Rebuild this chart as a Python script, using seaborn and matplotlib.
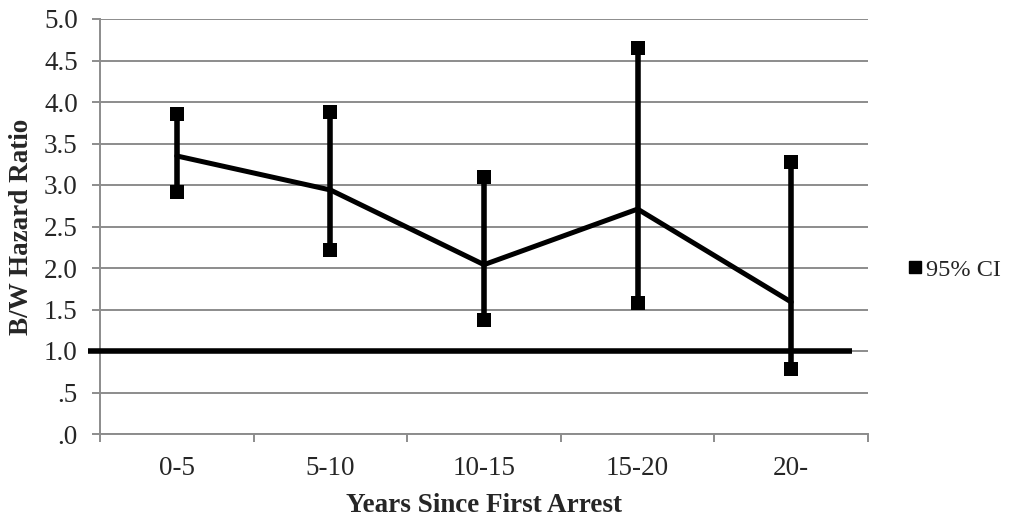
import matplotlib
matplotlib.use("Agg")
import matplotlib.pyplot as plt
from matplotlib.lines import Line2D
import seaborn as sns
import pandas as pd
import numpy as np

# Black/White hazard ratio by time since first arrest, with 95% confidence limits
periods = ["0-5", "5-10", "10-15", "15-20", "20-"]
hazard_ratio = [3.35, 2.94, 2.04, 2.71, 1.59]
ci_lower = [2.91, 2.22, 1.37, 1.58, 0.78]
ci_upper = [3.86, 3.88, 3.10, 4.65, 3.28]
reference_ratio = 1.0
y_ticks = [0.0, 0.5, 1.0, 1.5, 2.0, 2.5, 3.0, 3.5, 4.0, 4.5, 5.0]
y_tick_labels = [".0", ".5", "1.0", "1.5", "2.0", "2.5", "3.0", "3.5", "4.0", "4.5", "5.0"]

sns.set_theme(style="white")
plt.rcParams["font.family"] = ["Liberation Serif", "DejaVu Serif"]

pos = np.arange(len(periods))
df = pd.DataFrame({"pos": pos, "hr": hazard_ratio, "lo": ci_lower, "hi": ci_upper})
ci_long = pd.DataFrame({
    "pos": np.concatenate([pos, pos]),
    "bound": ci_lower + ci_upper,
})

fig = plt.figure(figsize=(10.15, 5.18), dpi=100)
ax = fig.add_axes([100 / 1015, 1 - 434 / 518, 768 / 1015, 415 / 518])

fs = 19.5
grid_color = "#8c8c8c"
ax.set_ylim(0, 5)
ax.set_xlim(-0.5, len(periods) - 0.5)
ax.set_yticks(y_ticks)
ax.set_yticklabels(y_tick_labels)
ax.yaxis.grid(True, color=grid_color, linewidth=1.4)
ax.set_axisbelow(True)

# reference line at ratio = 1, running slightly past the left axis
ax.plot([-0.578, 4.397], [reference_ratio, reference_ratio], color="black",
        linewidth=4, clip_on=False, zorder=3, solid_capstyle="butt")

# confidence interval whiskers
ax.vlines(df["pos"], df["lo"], df["hi"], color="black", linewidth=4, zorder=4)

# point estimates joined by a line
sns.lineplot(data=df, x="pos", y="hr", color="black", linewidth=3.6,
             ax=ax, zorder=5, legend=False)

# square end caps on the confidence interval
sns.scatterplot(data=ci_long, x="pos", y="bound", marker="s", s=95,
                color="black", edgecolor="black", linewidth=0, ax=ax,
                zorder=6, legend=False, clip_on=False)

for side in ["top", "right"]:
    ax.spines[side].set_visible(False)
for side in ["left", "bottom"]:
    ax.spines[side].set_color(grid_color)
    ax.spines[side].set_linewidth(1.4)

ax.set_xticks(pos)
ax.set_xticklabels(periods)
ax.set_xticks(np.arange(-0.5, len(periods), 1.0), minor=True)
ax.tick_params(axis="x", which="major", length=0, pad=16, labelsize=fs)
ax.tick_params(axis="x", which="minor", length=6, width=1.4, color=grid_color,
               direction="out", bottom=True)
ax.tick_params(axis="y", which="major", length=6, width=1.4, color=grid_color,
               direction="out", left=True, pad=10, labelsize=fs)

ax.set_xlabel("Years Since First Arrest", fontsize=fs, fontweight="bold")
ax.set_ylabel("B/W Hazard Ratio", fontsize=fs, fontweight="bold")
ax.xaxis.set_label_coords(0.5, (434 - 505) / 415)
ax.xaxis.label.set_va("center")
ax.yaxis.set_label_coords((22 - 100) / 768, 0.5)
ax.yaxis.label.set_va("center")

handle = Line2D([], [], linestyle="none", marker="s", markersize=9,
                color="black")
fig.legend([handle], ["95% CI"], loc="center left",
           bbox_to_anchor=(898 / 1015, 1 - 270 / 518), frameon=False,
           handlelength=0.6, handletextpad=0.15, fontsize=17.5,
           borderaxespad=0)

fig.savefig("out.png", dpi=100)
